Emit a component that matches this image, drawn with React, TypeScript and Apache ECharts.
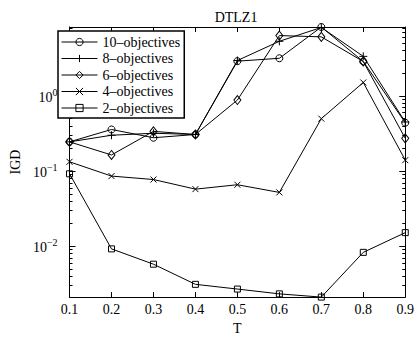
import React, { useEffect, useRef } from "react";
import * as echarts from "echarts";

const categories = ["0.1", "0.2", "0.3", "0.4", "0.5", "0.6", "0.7", "0.8", "0.9"];
const obj10 = [0.245, 0.358, 0.278, 0.307, 2.9, 3.17, 8.26, 2.87, 0.44];
const obj8 = [0.245, 0.3, 0.319, 0.307, 2.96, 5.33, 8.14, 3.36, 0.45];
const obj6 = [0.245, 0.164, 0.338, 0.307, 0.882, 6.35, 6.11, 2.87, 0.273];
const obj4 = [0.133, 0.0859, 0.0773, 0.0576, 0.0659, 0.0521, 0.499, 1.51, 0.14];
const obj2 = [0.0921, 0.00924, 0.00578, 0.00312, 0.0027, 0.00233, 0.00211, 0.00831, 0.0152];
const seriesNames = ["10–objectives", "8–objectives", "6–objectives", "4–objectives", "2–objectives"];
const majorTicks = [0.01, 0.1, 1];
const minorTicks = [
  0.003, 0.004, 0.005, 0.006, 0.007, 0.008, 0.009,
  0.02, 0.03, 0.04, 0.05, 0.06, 0.07, 0.08, 0.09,
  0.2, 0.3, 0.4, 0.5, 0.6, 0.7, 0.8, 0.9,
  2, 3, 4, 5, 6, 7, 8,
];

const FONT = "'Liberation Serif', 'Times New Roman', serif";

export default function App() {
  const ref = useRef<HTMLDivElement>(null);
  useEffect(() => {
    if (!ref.current) return;
    const chart = echarts.init(ref.current, undefined, { renderer: "svg" });
    const all = [...obj10, ...obj8, ...obj6, ...obj4, ...obj2];
    const yMin = Math.min(...all);
    const yMax = Math.max(...all);
    const dataSets = [obj10, obj8, obj6, obj4, obj2];
    const symbols = [
      "circle",
      "path://M5,0L5,10M0,5L10,5",
      "diamond",
      "path://M0,0L10,10M0,10L10,0",
      "rect",
    ];
    const sizes = [7, 8, [7, 9], 6, 6];
    const black = "#000";
    const yBase = (pos: "left" | "right", minor: boolean, labels: boolean) => ({
      type: "log",
      logBase: 10,
      min: yMin,
      max: yMax,
      position: pos,
      gridIndex: 0,
      axisLine: { show: !minor, lineStyle: { color: black, width: 1 } },
      splitLine: { show: false },
      minorTick: { show: false },
      axisTick: {
        show: true,
        inside: true,
        length: minor ? 3 : 6,
        lineStyle: { color: black, width: 1 },
        customValues: minor ? minorTicks : majorTicks,
      },
      axisLabel: labels
        ? {
            show: true,
            customValues: majorTicks,
            margin: 12,
            formatter: (v: number) => {
              const e = Math.round(Math.log10(v));
              const s = e < 0 ? "−" + Math.abs(e) : String(e);
              return "{b|10}{s|" + s + "}";
            },
            rich: {
              b: { fontSize: 14, fontFamily: FONT, color: black, lineHeight: 17, verticalAlign: "bottom" },
              s: { fontSize: 10, fontFamily: FONT, color: black, lineHeight: 17, verticalAlign: "top" },
            },
          }
        : { show: false },
      name: labels ? "IGD" : "",
      nameLocation: "middle",
      nameGap: 33,
      nameTextStyle: { fontSize: 14, fontFamily: FONT, color: black },
    });
    const xBase = (pos: "top" | "bottom", labels: boolean) => ({
      type: "category",
      data: categories,
      boundaryGap: false,
      position: pos,
      axisLine: { show: true, lineStyle: { color: black, width: 1 } },
      axisTick: { show: true, inside: true, length: 5, lineStyle: { color: black, width: 1 } },
      axisLabel: labels
        ? { show: true, margin: 5, fontSize: 14, fontFamily: FONT, color: black }
        : { show: false },
      splitLine: { show: false },
      name: labels ? "T" : "",
      nameLocation: "middle",
      nameGap: 18,
      nameTextStyle: { fontSize: 14, fontFamily: FONT, color: black },
    });
    chart.setOption({
      animation: false,
      backgroundColor: "#fff",
      textStyle: { fontFamily: FONT, color: black },
      title: {
        text: "DTLZ1",
        left: 231,
        top: 5,
        textAlign: "center",
        textStyle: { fontSize: 14, fontWeight: "normal", fontFamily: FONT, color: black },
      },
      grid: { left: 53, right: 8, top: 27, bottom: 31, containLabel: false },
      legend: {
        orient: "vertical",
        left: 58,
        top: 31,
        data: seriesNames,
        backgroundColor: "#fff",
        borderColor: black,
        borderWidth: 1.5,
        borderRadius: 0,
        padding: [4, 4, 3, 3],
        itemGap: 2.5,
        itemWidth: 36,
        itemHeight: 9,
        lineStyle: { width: 1, color: black },
        itemStyle: { borderWidth: 1, borderColor: black, color: "none" },
        textStyle: { fontSize: 14, fontFamily: FONT, color: black },
      },
      xAxis: [xBase("bottom", true), xBase("top", false)],
      yAxis: [
        yBase("left", false, true),
        yBase("left", true, false),
        yBase("right", false, false),
        yBase("right", true, false),
      ],
      series: dataSets.map((d, i) => ({
        type: "line",
        name: seriesNames[i],
        data: d,
        xAxisIndex: 0,
        yAxisIndex: 0,
        symbol: symbols[i],
        symbolSize: sizes[i],
        showAllSymbol: true,
        lineStyle: { color: black, width: 1 },
        itemStyle: { color: "none", borderColor: black, borderWidth: 1 },
        emphasis: { disabled: true },
      })),
    });
    return () => chart.dispose();
  }, []);
  return (
    <div
      ref={ref}
      style={{ position: "fixed", left: 0, top: 0, width: 417, height: 340 }}
    />
  );
}
